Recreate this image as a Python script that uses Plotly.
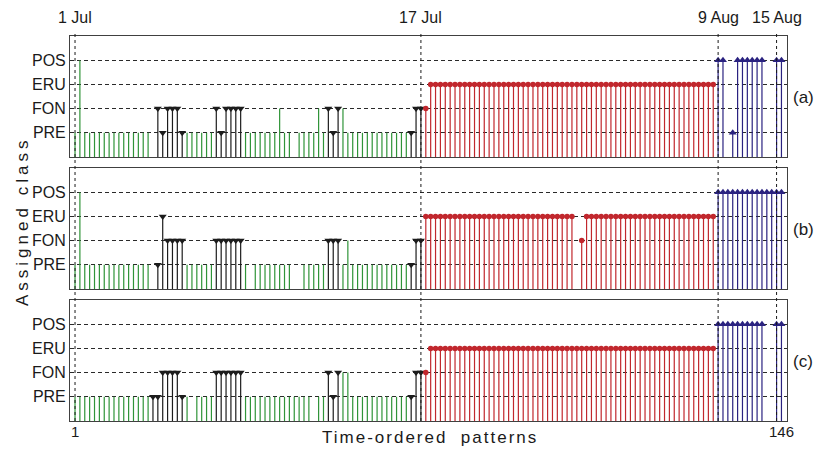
import plotly.graph_objects as go

N = None  # unassigned pattern

class_names = ["PRE", "FON", "ERU", "POS"]
pattern_ids = list(range(1, 147))

# reference class of each time-ordered pattern (1=PRE, 2=FON, 3=ERU, 4=POS)
true_class = ([1] * 16 + [2] * 7 + [1] * 6 + [2] * 6 + [1] * 17 + [2] * 3 +
              [1] * 14 + [2] * 3 + [3] * 60 + [4] * 14)

assigned_a = [
    1, 4, 1, 1, 1, 1, 1, 1, 1, 1,
    1, 1, 1, 1, 1, 1, N, 2, 1, 2,
    2, 2, 1, 1, 1, 1, 1, 1, 1, 2,
    1, 2, 2, 2, 2, 1, 1, 1, 1, 1,
    1, 1, 2, 1, 1, N, 1, 1, 1, 1,
    2, 1, 2, 1, 2, 2, 1, 1, 1, 1,
    1, 1, 1, 1, 1, 1, 1, 1, 1, 1,
    2, 2, 2, 3, 3, 3, 3, 3, 3, 3,
    3, 3, 3, 3, 3, 3, 3, 3, 3, 3,
    3, 3, 3, 3, 3, 3, 3, 3, 3, 3,
    3, 3, 3, 3, 3, 3, 3, 3, 3, 3,
    3, 3, 3, 3, 3, 3, 3, 3, 3, 3,
    3, 3, 3, 3, 3, 3, 3, 3, 3, 3,
    3, 3, 4, 4, N, 1, 4, 4, 4, 4,
    4, 4, N, N, 4, 4,
]

assigned_b = [
    1, 4, 1, 1, 1, 1, 1, 1, 1, 1,
    1, 1, 1, 1, 1, 1, N, 1, 3, 2,
    2, 2, 2, 1, 1, 1, 1, 1, 1, 2,
    2, 2, 2, 2, 2, 1, N, 1, 1, 1,
    1, 1, 1, 1, 1, N, N, 1, 1, 1,
    1, 1, 2, 2, 2, 1, 2, 1, 1, 1,
    1, 1, 1, 1, 1, 1, 1, 1, 1, 1,
    2, 2, 3, 3, 3, 3, 3, 3, 3, 3,
    3, 3, 3, 3, 3, 3, 3, 3, 3, 3,
    3, 3, 3, 3, 3, 3, 3, 3, 3, 3,
    3, 3, 3, N, 2, 3, 3, 3, 3, 3,
    3, 3, 3, 3, 3, 3, 3, 3, 3, 3,
    3, 3, 3, 3, 3, 3, 3, 3, 3, 3,
    3, 3, 4, 4, 4, 4, 4, 4, 4, 4,
    4, 4, 4, 4, 4, 4,
]

assigned_c = [
    1, 1, 1, 1, 1, 1, 1, 1, 1, 1,
    1, 1, 1, 1, 1, 1, 1, 1, 2, 2,
    2, 2, 1, 1, N, 1, 1, 1, 1, 2,
    2, 2, 2, 2, 2, 1, 1, 1, 1, 1,
    1, 1, 1, 1, 1, 1, 1, 1, 1, N,
    1, 1, 2, 1, 2, 2, 2, 1, 1, 1,
    1, 1, 1, 1, 1, 1, 1, 1, 1, 1,
    2, 2, 2, 3, 3, 3, 3, 3, 3, 3,
    3, 3, 3, 3, 3, 3, 3, 3, 3, 3,
    3, 3, 3, 3, 3, 3, 3, 3, 3, 3,
    3, 3, 3, 3, 3, 3, 3, 3, 3, 3,
    3, 3, 3, 3, 3, 3, 3, 3, 3, 3,
    3, 3, 3, 3, 3, 3, 3, 3, 3, 3,
    3, 3, 4, 4, 4, 4, 4, 4, 4, 4,
    4, 4, N, N, 4, 4,
]

panel_labels = ["(a)", "(b)", "(c)"]
date_labels = ["1 Jul", "17 Jul", "9 Aug", "15 Aug"]
date_patterns = [1, 72, 133, 145]
x_tick_vals = [1, 146]

# styles
colors = {1: "#2f9438", 2: "#1c1c1c", 3: "#c1272d", 4: "#2a2280"}
symbols = {1: None, 2: "triangle-down", 3: "circle", 4: "triangle-up"}
msize = {1: 0, 2: 7, 3: 5.5, 4: 7}

W, H = 815, 449
L, R, T, B = 70, 28, 36, 28
plot_h = H - T - B
plot_w = W - L - R
panel_px = [(36, 157), (168, 289), (300, 421)]
domains = [[(H - B - b) / plot_h, (H - B - t) / plot_h] for t, b in panel_px]

fig = go.Figure()
font_family = "Liberation Sans, Arial, sans-serif"
txt_color = "#1a1a1a"

for p, assigned in enumerate([assigned_a, assigned_b, assigned_c]):
    ax = "" if p == 0 else str(p + 1)
    for k in (1, 2, 3, 4):
        xs, ys, mx, my = [], [], [], []
        for i, tc, v in zip(pattern_ids, true_class, assigned):
            if tc == k and v is not None:
                xs += [i, i, None]
                ys += [0, v, None]
                mx.append(i)
                my.append(v)
        fig.add_trace(go.Scatter(x=xs, y=ys, mode="lines",
                                 line=dict(color=colors[k], width=1.2),
                                 xaxis="x" + ax, yaxis="y" + ax,
                                 hoverinfo="skip", showlegend=False))
        if symbols[k]:
            fig.add_trace(go.Scatter(x=mx, y=my, mode="markers",
                                     marker=dict(symbol=symbols[k], size=msize[k],
                                                 color=colors[k], line=dict(width=0)),
                                     xaxis="x" + ax, yaxis="y" + ax,
                                     showlegend=False))

# date markers above the top panel
fig.add_trace(go.Scatter(x=date_patterns, y=[5.25] * len(date_patterns), mode="markers",
                         marker=dict(symbol="triangle-down", size=8, color="black"),
                         cliponaxis=False, xaxis="x", yaxis="y", showlegend=False))

axis_line = "#404040"
for p in range(3):
    xa = dict(range=[-0.03, 147.14], showgrid=False, zeroline=False,
              showline=True, mirror=True, linecolor=axis_line, linewidth=1,
              ticks="", showticklabels=False,
              anchor="y" if p == 0 else "y" + str(p + 1))
    ya = dict(range=[0, 5], domain=domains[p], tickvals=[1, 2, 3, 4],
              ticktext=class_names, showgrid=True, gridcolor="#2a2a2a",
              griddash="4px,3px", gridwidth=1, zeroline=False,
              showline=True, mirror=True, linecolor=axis_line, linewidth=1,
              ticks="", tickfont=dict(size=16, family=font_family, color=txt_color),
              anchor="x" if p == 0 else "x" + str(p + 1))
    if p > 0:
        xa["matches"] = "x"
    key = "" if p == 0 else str(p + 1)
    fig.layout["xaxis" + key] = xa
    fig.layout["yaxis" + key] = ya

# vertical dashed date lines through all panels
for d in date_patterns:
    fig.add_shape(type="line", xref="x", yref="paper", x0=d, x1=d,
                  y0=0, y1=(H - B - 32) / plot_h,
                  line=dict(color=txt_color, width=1, dash="3px,3px"), layer="above")

ann = []
for lab, d in zip(date_labels, date_patterns):
    ann.append(dict(text=lab, x=d, xref="x", y=(H - B - 18) / plot_h, yref="paper",
                    showarrow=False, xanchor="center", yanchor="middle",
                    font=dict(size=16, family=font_family, color=txt_color)))
for p, lab in enumerate(panel_labels):
    t, b = panel_px[p]
    ann.append(dict(text=lab, x=1, xref="paper", xshift=16, xanchor="center",
                    y=(H - B - (t + b) / 2 - 1) / plot_h, yref="paper", yanchor="middle",
                    showarrow=False, font=dict(size=17, family=font_family, color=txt_color)))
for v in x_tick_vals:
    ann.append(dict(text=str(v), x=v, xref="x", y=(H - B - 431) / plot_h, yref="paper",
                    showarrow=False, xanchor="center", yanchor="middle",
                    font=dict(size=15, family=font_family, color=txt_color)))
ann.append(dict(text='<span style="letter-spacing:2px">Time-ordered\u00a0\u00a0patterns</span>',
                x=(430 - L) / plot_w, xref="paper", y=(H - B - 437) / plot_h, yref="paper",
                showarrow=False, xanchor="center", yanchor="middle",
                font=dict(size=17, family=font_family, color=txt_color)))
ann.append(dict(text='<span style="letter-spacing:4px">Assigned class</span>',
                x=(22 - L) / plot_w, xref="paper", y=(H - B - 222) / plot_h, yref="paper",
                showarrow=False, xanchor="center", yanchor="middle", textangle=-90,
                font=dict(size=17, family=font_family, color=txt_color)))

fig.update_layout(width=W, height=H, margin=dict(l=L, r=R, t=T, b=B),
                  paper_bgcolor="white", plot_bgcolor="white",
                  annotations=ann, showlegend=False)

fig.write_html("out.html", config={"displayModeBar": False},
               post_script="document.body.style.margin='0';document.body.style.overflow='hidden';")
